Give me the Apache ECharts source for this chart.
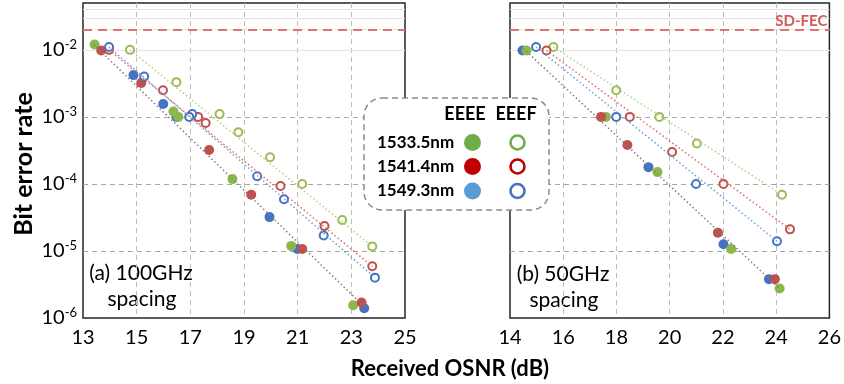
<!DOCTYPE html>
<html><head><meta charset="utf-8">
<script src="https://cdn.jsdelivr.net/npm/echarts@6/dist/echarts.min.js"></script>
<style>html,body{margin:0;padding:0;background:#fff}#c{width:844px;height:384px}</style>
</head><body><div id="c"></div>
<script>
const FONT = 'Lato';
const xTicksA = [13, 15, 17, 19, 21, 23, 25];
const xTicksB = [14, 16, 18, 20, 22, 24, 26];
const yMin = 1e-6, yMax = 5e-2;
const sdFec = 2e-2;
const wavelengths = ['1533.5nm', '1541.4nm', '1549.3nm'];
const formats = ['EEEE', 'EEEF'];
const panelLabels = ['(a) 100GHz', '(b) 50GHz'];

// ---- panel (a) 100GHz spacing : [OSNR dB, BER]
const a_eeee_1533 = [[13.43,1.2e-2],[16.37,1.2e-3],[16.55,1.0e-3],[18.57,1.18e-4],[20.76,1.19e-5],[23.07,1.55e-6]];
const a_eeee_1541 = [[13.68,9.8e-3],[15.17,3.2e-3],[17.70,3.2e-4],[19.27,6.9e-5],[21.17,1.07e-5],[23.38,1.7e-6]];
const a_eeee_1549 = [[14.88,4.2e-3],[15.99,1.56e-3],[16.48,1.0e-3],[19.95,3.2e-5],[20.99,1.07e-5],[23.48,1.4e-6]];
const a_eeef_1533 = [[14.75,1.0e-2],[16.48,3.3e-3],[18.09,1.1e-3],[18.79,5.9e-4],[19.97,2.5e-4],[21.17,1.0e-4],[22.66,2.9e-5],[23.78,1.17e-5]];
const a_eeef_1541 = [[13.97,1.0e-2],[15.98,2.5e-3],[17.29,1.0e-3],[17.57,8.1e-4],[20.36,9.3e-5],[22.0,2.35e-5],[23.78,5.9e-6]];
const a_eeef_1549 = [[13.97,1.1e-2],[15.28,4.0e-3],[17.07,1.1e-3],[16.96,1.0e-3],[19.49,1.3e-4],[20.49,5.9e-5],[21.97,1.7e-5],[23.88,4.0e-6]];
const a_trend_eeee = [[13.4,1.2e-2],[23.5,1.45e-6]];
const a_trend_1533 = [[14.75,1.0e-2],[23.78,1.17e-5]];
const a_trend_1541 = [[13.97,1.0e-2],[23.78,5.9e-6]];
const a_trend_1549 = [[13.97,1.1e-2],[23.88,4.0e-6]];

// ---- panel (b) 50GHz spacing
const b_eeee_1533 = [[14.62,9.8e-3],[17.60,1.0e-3],[19.54,1.5e-4],[22.31,1.07e-5],[24.13,2.75e-6]];
const b_eeee_1541 = [[17.42,1.0e-3],[18.41,3.8e-4],[21.81,1.87e-5],[23.95,3.8e-6]];
const b_eeee_1549 = [[14.47,9.8e-3],[19.20,1.78e-4],[22.02,1.26e-5],[23.73,3.8e-6]];
const b_eeef_1533 = [[15.63,1.1e-2],[17.99,2.5e-3],[19.61,1.0e-3],[21.02,4.0e-4],[24.22,6.9e-5]];
const b_eeef_1541 = [[15.37,9.8e-3],[18.50,1.0e-3],[20.09,3.0e-4],[22.02,1.0e-4],[24.52,2.1e-5]];
const b_eeef_1549 = [[14.98,1.1e-2],[17.99,1.0e-3],[20.99,1.0e-4],[24.03,1.4e-5]];
const b_trend_eeee = [[14.5,1.05e-2],[24.15,2.7e-6]];
const b_trend_1533 = [[15.63,1.1e-2],[24.22,6.9e-5]];
const b_trend_1541 = [[15.37,9.8e-3],[24.52,2.1e-5]];
const b_trend_1549 = [[14.98,1.1e-2],[24.03,1.4e-5]];

// colours
const C = {
  gF: '#8BB84C', rF: '#C0504D', bF: '#4472C4',
  gH: '#9BBB59', rH: '#C0504D', bH: '#4472C4',
  tGray: '#7F7F7F', tG: '#B6D07E', tR: '#E06A6A', tB: '#6C9FD8',
  lgF: ['#70AD47', '#C00000', '#5B9BD5'],
  lgH: ['#70AD47', '#C00000', '#4472C4']
};

// minor log grid values (2..9 x each decade)
const minorGrid = [];
for (let e = -6; e <= -2; e++) for (let m = 2; m <= 9; m++) { const v = m * Math.pow(10, e); if (v < yMax) minorGrid.push(v); }

function filled(name, data, color, gi) {
  return { name, type: 'scatter', xAxisIndex: gi, yAxisIndex: gi, data, symbol: 'circle', symbolSize: 10, z: 3,
    itemStyle: { color, opacity: 1 }, silent: true };
}
function hollow(name, data, color, gi) {
  return { name, type: 'scatter', xAxisIndex: gi, yAxisIndex: gi, data, symbol: 'circle', symbolSize: 8, z: 3,
    itemStyle: { color: '#fff', borderColor: color, borderWidth: 2, opacity: 1 }, silent: true };
}
function trend(data, color, gi) {
  return { type: 'line', xAxisIndex: gi, yAxisIndex: gi, data, showSymbol: false, symbol: 'none', z: 4, silent: true,
    lineStyle: { color, width: 1.5, type: [1.5, 2.5] } };
}
function gridLines(gi, withLabel) {
  const data = minorGrid.map(v => ({ yAxis: v, lineStyle: { color: '#E4E4E4', width: 1, type: 'solid' }, label: { show: false } }));
  data.push({ yAxis: sdFec, lineStyle: { color: '#E07474', width: 2, type: [9, 6] },
    label: withLabel ? { show: true, position: 'insideEndTop', formatter: 'SD-FEC', color: '#D05A5A',
      fontFamily: FONT, fontWeight: 'bold', fontSize: 15, distance: [2, 1] } : { show: false } });
  return { type: 'line', xAxisIndex: gi, yAxisIndex: gi, data: [], silent: true,
    markLine: { silent: true, symbol: 'none', z: 1, animation: false, data } };
}

const xAxisCommon = (gi, min, max, ticks) => ({
  type: 'value', gridIndex: gi, min, max, interval: 2,
  axisLine: { show: false },
  axisTick: { show: false, customValues: ticks },
  axisLabel: { customValues: ticks, fontFamily: FONT, fontSize: 20, color: '#000', margin: 10 },
  splitLine: { show: true, showMinLine: false, showMaxLine: false, lineStyle: { color: '#BDBDBD', type: [5, 4], width: 1 } }
});
const yAxisCommon = (gi, showLabel) => ({
  type: 'log', logBase: 10, gridIndex: gi, min: yMin, max: yMax,
  axisLine: { show: false }, axisTick: { show: false },
  axisLabel: {
    show: showLabel, margin: 6,
    formatter: v => { const e = Math.log10(v); const r = Math.round(e); if (Math.abs(e - r) > 1e-6) return ''; return '{b|10}{s|' + r + '}'; },
    rich: {
      b: { fontFamily: FONT, fontSize: 20, color: '#000' },
      s: { fontFamily: FONT, fontSize: 13, color: '#000', verticalAlign: 'bottom', padding: [0, 0, 10, 0] }
    }
  },
  splitLine: { show: true, showMinLine: false, showMaxLine: false, lineStyle: { color: '#A6A6A6', type: [5, 4], width: 1 } }
});

const legendGraphics = [];
legendGraphics.push({ type: 'rect', z: 100, shape: { x: 364, y: 98, width: 185, height: 112, r: 18 },
  style: { fill: '#fff', stroke: '#8C8C8C', lineWidth: 1.5, lineDash: [6, 4] } });
legendGraphics.push({ type: 'text', z: 101, x: 465, y: 114, style: { text: formats[0], fontFamily: FONT, fontWeight: 'bold', fontSize: 18, fill: '#000', align: 'center', verticalAlign: 'middle' } });
legendGraphics.push({ type: 'text', z: 101, x: 516, y: 114, style: { text: formats[1], fontFamily: FONT, fontWeight: 'bold', fontSize: 18, fill: '#000', align: 'center', verticalAlign: 'middle' } });
const rowY = [142.5, 166.5, 191];
wavelengths.forEach((w, i) => {
  legendGraphics.push({ type: 'text', z: 101, x: 377, y: rowY[i], style: { text: w, fontFamily: FONT, fontWeight: 'bold', fontSize: 17, fill: '#000', align: 'left', verticalAlign: 'middle' } });
  legendGraphics.push({ type: 'circle', z: 101, shape: { cx: 472.5, cy: rowY[i], r: 8.5 }, style: { fill: C.lgF[i] } });
  legendGraphics.push({ type: 'circle', z: 101, shape: { cx: 517.5, cy: rowY[i], r: 7 }, style: { fill: '#fff', stroke: C.lgH[i], lineWidth: 2.6 } });
});

const textGraphics = [
  { type: 'text', x: 141, y: 273, style: { text: panelLabels[0], fontFamily: FONT, fontSize: 21, fill: '#000', align: 'center', verticalAlign: 'middle' } },
  { type: 'text', x: 142, y: 299, style: { text: 'spacing', fontFamily: FONT, fontSize: 21, fill: '#000', align: 'center', verticalAlign: 'middle' } },
  { type: 'text', x: 563, y: 274, style: { text: panelLabels[1], fontFamily: FONT, fontSize: 21, fill: '#000', align: 'center', verticalAlign: 'middle' } },
  { type: 'text', x: 564, y: 300, style: { text: 'spacing', fontFamily: FONT, fontSize: 21, fill: '#000', align: 'center', verticalAlign: 'middle' } },
  { type: 'text', x: 24, y: 164, rotation: Math.PI / 2, style: { text: 'Bit error rate', fontFamily: FONT, fontWeight: 'bold', fontSize: 25, fill: '#000', align: 'center', verticalAlign: 'middle' } },
  { type: 'text', x: 450, y: 369, style: { text: 'Received OSNR (dB)', fontFamily: FONT, fontWeight: 'bold', fontSize: 22, fill: '#000', align: 'center', verticalAlign: 'middle' } }
];

const option = {
  animation: false,
  backgroundColor: '#fff',
  grid: [
    { left: 83, top: 3, width: 322, height: 315, show: true, borderColor: '#262626', borderWidth: 1.5, backgroundColor: 'transparent' },
    { left: 510, top: 3, width: 325, height: 315, show: true, borderColor: '#262626', borderWidth: 1.5, backgroundColor: 'transparent' }
  ],
  xAxis: [xAxisCommon(0, 13, 25, xTicksA), xAxisCommon(1, 14, 26, xTicksB)],
  yAxis: [yAxisCommon(0, true), yAxisCommon(1, false)],
  series: [
    gridLines(0, false), gridLines(1, true),
    filled('1549.3nm EEEE', a_eeee_1549, C.bF, 0),
    filled('1533.5nm EEEE', a_eeee_1533, C.gF, 0),
    filled('1541.4nm EEEE', a_eeee_1541, C.rF, 0),
    hollow('1533.5nm EEEF', a_eeef_1533, C.gH, 0),
    hollow('1541.4nm EEEF', a_eeef_1541, C.rH, 0),
    hollow('1549.3nm EEEF', a_eeef_1549, C.bH, 0),
    trend(a_trend_eeee, C.tGray, 0), trend(a_trend_1533, C.tG, 0), trend(a_trend_1541, C.tR, 0), trend(a_trend_1549, C.tB, 0),
    filled('1549.3nm EEEE', b_eeee_1549, C.bF, 1),
    filled('1533.5nm EEEE', b_eeee_1533, C.gF, 1),
    filled('1541.4nm EEEE', b_eeee_1541, C.rF, 1),
    hollow('1533.5nm EEEF', b_eeef_1533, C.gH, 1),
    hollow('1541.4nm EEEF', b_eeef_1541, C.rH, 1),
    hollow('1549.3nm EEEF', b_eeef_1549, C.bH, 1),
    trend(b_trend_eeee, C.tGray, 1), trend(b_trend_1533, C.tG, 1), trend(b_trend_1541, C.tR, 1), trend(b_trend_1549, C.tB, 1)
  ],
  graphic: { elements: textGraphics.concat(legendGraphics) }
};
const chart = echarts.init(document.getElementById('c'), null, { renderer: 'canvas' });
chart.setOption(option);
</script></body></html>
